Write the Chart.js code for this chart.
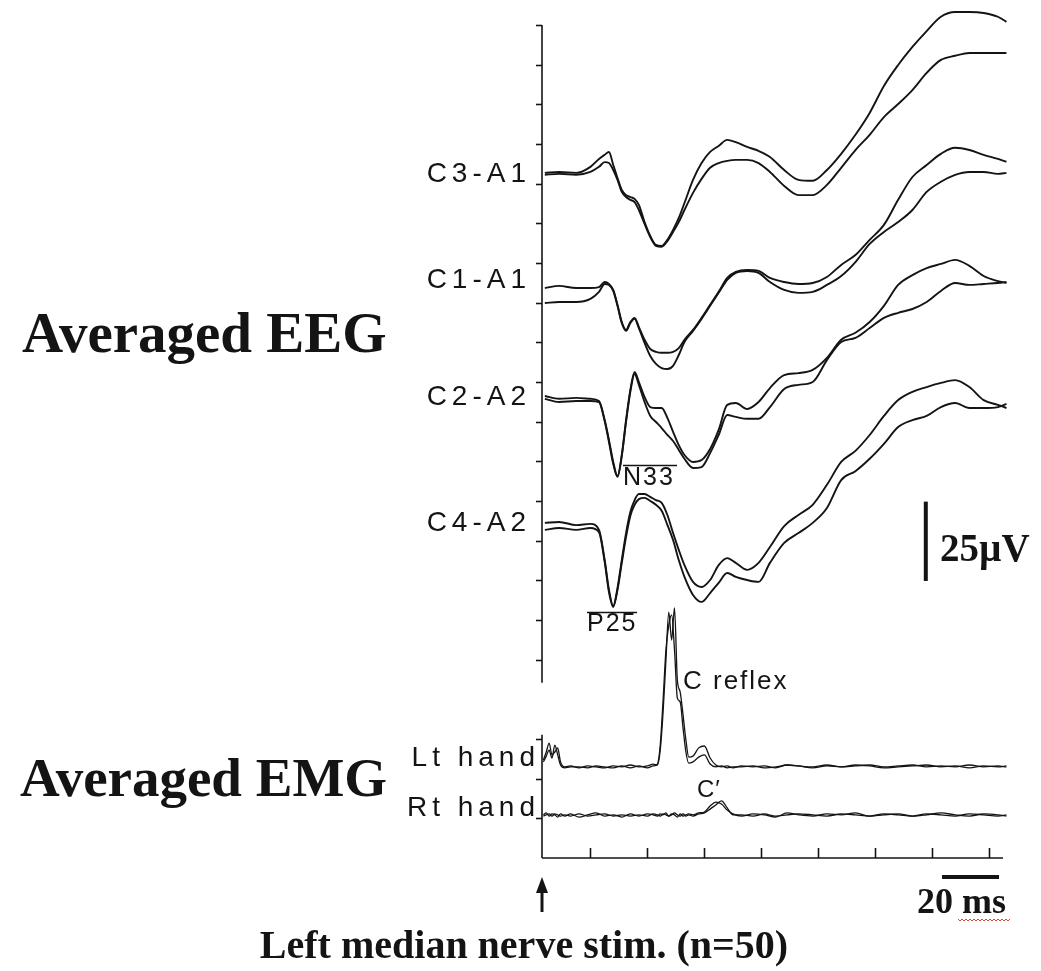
<!DOCTYPE html>
<html>
<head>
<meta charset="utf-8">
<script src="https://cdn.jsdelivr.net/npm/chart.js@4.4.1/dist/chart.umd.min.js"></script>
<style>
  html, body { margin: 0; padding: 0; background: #fff; }
  #wrap { width: 1041px; height: 971px; }
</style>
</head>
<body>
<div id="wrap"><canvas id="chart" width="1041" height="971"></canvas></div>
<script>
// time after stimulus (ms) for the EEG traces
const eegTimes = [1, 6, 12, 17, 20, 22, 23.5, 25, 26.5, 28, 29.5, 31, 32.5, 34, 36, 38, 40, 42, 44, 46, 48, 50,
  53, 56, 59, 62, 65, 68, 72, 76, 80, 85, 90, 95, 100, 105, 110, 115, 120, 125, 130, 135, 140, 145, 150, 155, 160, 163];

// EEG traces (µV, stacked level), two averages per derivation
const c3Upper = [215.9, 216.2, 215.9, 217.8, 220.3, 221.6, 222.5, 218.4, 214.3, 210.5, 208.9, 208.3, 207.7, 205.8, 200.4, 196.0,
  193.2, 192.9, 194.8, 197.9, 201.7, 206.4, 213.7, 219.0, 222.5, 224.4, 226.3, 225.6, 224.1, 222.8, 220.9, 216.8,
  213.7, 213.4, 216.8, 221.9, 227.9, 234.8, 243.3, 249.9, 255.6, 260.6, 265.1, 266.6, 266.6, 266.3, 265.1, 263.5];
const c3Lower = [215.3, 215.6, 215.3, 216.2, 217.8, 219.3, 219.0, 216.8, 213.7, 209.9, 208.3, 207.4, 206.7, 204.2, 199.8, 195.7,
  192.9, 192.6, 194.4, 197.3, 200.4, 204.2, 209.6, 214.0, 217.5, 219.0, 219.7, 220.0, 220.0, 219.0, 216.2, 211.8,
  208.9, 208.9, 212.1, 217.5, 223.1, 227.9, 233.5, 237.6, 242.0, 247.4, 251.5, 252.8, 253.7, 253.7, 253.7, 253.7];
const c1Upper = [179.6, 180.3, 179.6, 179.6, 179.9, 181.5, 180.9, 179.0, 174.3, 168.9, 166.4, 168.9, 170.2, 167.3, 163.3, 160.4,
  159.5, 159.2, 159.2, 159.5, 160.7, 163.3, 166.4, 170.2, 174.3, 178.4, 182.8, 184.7, 185.3, 185.0, 182.8, 181.5,
  180.9, 181.2, 183.1, 186.9, 190.0, 194.8, 199.5, 207.4, 214.6, 218.4, 221.9, 223.8, 223.1, 221.6, 220.3, 219.4];
const c1Lower = [174.9, 175.2, 175.2, 176.2, 178.4, 180.9, 180.6, 178.7, 174.0, 168.6, 166.1, 168.6, 169.9, 167.0, 162.3, 158.2,
  155.7, 154.4, 154.1, 155.1, 158.5, 162.6, 166.1, 169.9, 174.0, 178.1, 182.2, 184.4, 185.0, 184.4, 181.5, 179.0,
  178.1, 178.4, 180.6, 183.4, 187.8, 193.5, 197.3, 200.4, 204.2, 209.9, 213.1, 215.3, 216.2, 216.2, 215.6, 215.9];
const c2Upper = [145.6, 144.7, 145.0, 144.7, 144.0, 138.0, 131.7, 124.8, 120.4, 127.0, 138.0, 147.5, 153.2, 150.0, 145.3, 142.1,
  141.8, 141.8, 138.7, 134.3, 130.1, 127.0, 124.8, 125.4, 128.9, 134.9, 142.8, 143.4, 141.5, 143.7, 148.1, 152.2,
  152.8, 153.8, 157.6, 163.3, 165.5, 168.9, 174.0, 180.6, 183.7, 185.9, 187.2, 188.5, 186.6, 183.4, 181.8, 181.2];
const c2Lower = [144.7, 143.7, 144.0, 144.0, 143.7, 137.7, 131.1, 124.2, 120.1, 126.7, 137.4, 146.9, 152.5, 149.1, 143.7, 139.3,
  137.4, 135.5, 133.3, 131.4, 128.6, 125.8, 122.9, 123.2, 127.6, 133.3, 139.6, 139.0, 138.4, 138.4, 142.1, 147.8,
  149.1, 150.0, 156.9, 162.6, 163.9, 167.0, 170.2, 171.8, 173.0, 175.2, 178.7, 181.2, 180.6, 180.9, 181.2, 181.5];
const c4Upper = [105.6, 105.9, 104.9, 105.3, 103.4, 93.9, 84.5, 79.4, 85.1, 93.9, 102.4, 109.0, 112.8, 114.7, 114.7, 113.8,
  112.8, 111.9, 108.1, 102.4, 97.1, 92.3, 87.0, 85.4, 87.6, 92.3, 94.5, 93.0, 90.8, 93.0, 98.0, 104.6,
  108.1, 111.3, 117.6, 124.8, 128.3, 133.3, 139.3, 144.3, 146.9, 148.4, 149.7, 150.6, 148.4, 144.3, 142.8, 141.8];
const c4Lower = [103.4, 104.0, 103.4, 104.0, 102.7, 93.3, 83.8, 79.1, 84.5, 93.0, 101.2, 107.8, 111.3, 113.1, 113.5, 112.5,
  111.3, 109.4, 105.0, 100.2, 93.9, 88.6, 82.9, 80.7, 83.5, 86.7, 89.8, 88.6, 87.6, 87.0, 93.0, 99.3,
  102.4, 105.6, 110.3, 119.1, 121.9, 125.8, 130.5, 135.8, 138.0, 139.3, 142.1, 143.4, 141.8, 141.8, 142.1, 143.1];

// time after stimulus (ms) for the EMG traces
const emgTimes = [0.5, 1.5, 2.5, 3.5, 4.5, 5.5, 6.5, 8, 10, 13, 16, 19, 22, 25, 28, 31, 34, 37, 39,
  40.5, 41.5, 42.5, 43.5, 44.5, 45.5, 46.5, 47.5, 48.5, 49.5, 50.5, 51.5,
  53, 55, 57, 59, 61, 63, 65, 67, 70, 74, 78, 82, 86, 90,
  95, 100, 105, 110, 115, 120, 125, 130, 135, 140, 145, 150, 155, 160, 163];

const ltHandA = [30.9, 33.4, 36.2, 32.5, 33.4, 34.7, 30.3, 28.7, 29.0, 28.4, 29.0, 28.7, 28.4, 29.0, 28.7, 29.3, 28.7, 29.0, 29.6,
  29.3, 34.0, 46.0, 62.4, 77.5, 68.7, 78.8, 56.1, 52.3, 45.1, 37.2, 31.8,
  32.1, 34.7, 35.3, 31.5, 29.3, 28.7, 29.0, 28.4, 29.0, 28.7, 29.0, 28.4, 29.3, 29.0,
  28.7, 29.3, 28.7, 29.0, 29.3, 28.7, 29.0, 29.3, 28.7, 29.0, 28.7, 29.3, 28.7, 29.0, 28.7];
const ltHandB = [30.3, 32.1, 34.0, 31.5, 35.6, 32.5, 29.3, 28.4, 28.7, 28.7, 28.4, 29.0, 28.7, 28.4, 29.0, 28.4, 29.0, 28.4, 29.0,
  29.6, 35.6, 49.8, 65.6, 73.4, 76.6, 65.6, 50.4, 49.2, 41.0, 33.4, 29.9,
  30.3, 31.8, 32.5, 29.6, 28.7, 29.0, 28.4, 28.7, 28.7, 29.0, 28.4, 28.7, 29.3, 29.0,
  28.4, 29.0, 28.7, 29.3, 29.0, 28.4, 28.7, 29.0, 29.3, 28.7, 29.0, 28.4, 29.0, 28.7, 29.0];
const rtHandA = [13.6, 14.2, 13.2, 13.9, 13.6, 12.9, 13.9, 13.2, 13.9, 12.9, 13.6, 14.2, 13.2, 13.6, 12.9, 13.9, 13.2, 13.9, 13.6,
  13.2, 13.9, 13.6, 14.2, 13.2, 13.9, 13.6, 12.9, 13.9, 13.2, 13.6, 13.9,
  13.6, 14.2, 14.5, 16.4, 17.6, 17.0, 15.1, 13.9, 13.2, 13.9, 13.6, 12.9, 14.2, 13.6,
  13.2, 13.9, 13.6, 14.2, 13.2, 13.6, 13.9, 13.2, 13.6, 14.2, 13.6, 13.2, 13.9, 13.6, 13.2];
const rtHandB = [13.2, 13.6, 13.9, 13.2, 13.9, 13.6, 13.2, 13.6, 13.2, 13.9, 13.2, 13.6, 13.9, 13.2, 13.6, 13.2, 13.6, 13.2, 13.9,
  13.6, 13.2, 13.9, 13.6, 13.2, 13.6, 14.2, 13.6, 13.2, 13.9, 13.2, 13.6,
  13.2, 13.9, 14.2, 15.4, 16.7, 18.0, 15.8, 13.6, 13.6, 13.2, 13.9, 13.2, 13.6, 13.9,
  13.6, 13.2, 13.9, 13.6, 13.2, 13.9, 13.6, 13.2, 13.9, 13.6, 13.2, 13.9, 13.6, 13.2, 13.6];

// labels
const channelNames = ["C3-A1", "C1-A1", "C2-A2", "C4-A2"];
const channelLevels = [215.9, 182.5, 145.6, 105.9];
const emgNames = ["Lt hand", "Rt hand"];
const emgLevels = [31.5, 15.8];

// axes: y ticks every 12.5 µV, broken between the EEG and EMG parts
const yTickStep = 12.5;
const yAxisTop = 262.5;
const yAxisBreak = [38.8, 55.2];
const xTickMs = [17, 37, 57, 77, 97, 117, 137, 157];
const xAxisEnd = 161.8;

// calibration bars
const uvBar = { t: 134.7, from: 87.3, size: 25 };
const msBar = { from: 140.4, size: 20, level: -6.0 };

const INK = "#141414";
const SERIF = '"Liberation Serif", "Times New Roman", serif';
const SANS = '"Liberation Sans", Arial, sans-serif';

const toPoints = (times, vals) => vals.map((v, i) => ({ x: times[i], y: v }));

const eegTraces = [c3Upper, c3Lower, c1Upper, c1Lower, c2Upper, c2Lower, c4Upper, c4Lower];
const emgTraces = [ltHandA, ltHandB, rtHandA, rtHandB];

const lineStyle = (w) => ({
  borderColor: INK,
  borderWidth: w,
  pointRadius: 0,
  fill: false,
  cubicInterpolationMode: "monotone",
  clip: false,
});

function txt(ctx, s, x, y, font, align, spacing) {
  ctx.font = font;
  ctx.textAlign = align || "left";
  ctx.letterSpacing = spacing || "0px";
  ctx.fillText(s, x, y);
}

const overlayPlugin = {
  id: "overlay",
  afterDatasetsDraw(chart) {
    const { ctx, scales: { x, y } } = chart;
    ctx.save();
    ctx.strokeStyle = INK;
    ctx.fillStyle = INK;
    ctx.lineWidth = 1.6;

    // vertical axis in two pieces
    const x0 = x.getPixelForValue(0);
    [[0, yAxisBreak[0]], [yAxisBreak[1], yAxisTop]].forEach(([lo, hi]) => {
      ctx.beginPath();
      ctx.moveTo(x0, y.getPixelForValue(hi));
      ctx.lineTo(x0, y.getPixelForValue(lo));
      ctx.stroke();
    });
    for (let v = yTickStep; v <= yAxisTop + 0.01; v += yTickStep) {
      if (v > yAxisBreak[0] && v < yAxisBreak[1]) continue;
      const py = Math.round(y.getPixelForValue(v)) + 0.5;
      ctx.beginPath();
      ctx.moveTo(x0 - 6, py);
      ctx.lineTo(x0, py);
      ctx.stroke();
    }

    // time axis with ticks pointing up
    const yb = y.getPixelForValue(0);
    ctx.beginPath();
    ctx.moveTo(x0, yb);
    ctx.lineTo(x.getPixelForValue(xAxisEnd), yb);
    ctx.stroke();
    xTickMs.forEach((t) => {
      const px = Math.round(x.getPixelForValue(t)) + 0.5;
      ctx.beginPath();
      ctx.moveTo(px, yb);
      ctx.lineTo(px, yb - 10);
      ctx.stroke();
    });

    // 25 µV bar
    ctx.lineWidth = 4;
    ctx.beginPath();
    ctx.moveTo(x.getPixelForValue(uvBar.t), y.getPixelForValue(uvBar.from));
    ctx.lineTo(x.getPixelForValue(uvBar.t), y.getPixelForValue(uvBar.from + uvBar.size));
    ctx.stroke();
    // 20 ms bar
    ctx.beginPath();
    ctx.moveTo(x.getPixelForValue(msBar.from), y.getPixelForValue(msBar.level));
    ctx.lineTo(x.getPixelForValue(msBar.from + msBar.size), y.getPixelForValue(msBar.level));
    ctx.stroke();

    // stimulus arrow at t = 0
    ctx.lineWidth = 3;
    ctx.beginPath();
    ctx.moveTo(x0, 912);
    ctx.lineTo(x0, 890);
    ctx.stroke();
    ctx.beginPath();
    ctx.moveTo(x0, 877);
    ctx.lineTo(x0 - 6, 893);
    ctx.lineTo(x0 + 6, 893);
    ctx.closePath();
    ctx.fill();

    // channel labels
    ctx.textBaseline = "middle";
    channelNames.forEach((n, i) => {
      txt(ctx, n, 531, y.getPixelForValue(channelLevels[i]) + 1, "28px " + SANS, "right", "5px");
    });
    emgNames.forEach((n, i) => {
      txt(ctx, n, 540, y.getPixelForValue(emgLevels[i]), "28px " + SANS, "right", "5px");
    });

    // component labels with overlines
    txt(ctx, "N33", 623, 478, "25px " + SANS, "left", "2px");
    txt(ctx, "P25", 587, 624, "25px " + SANS, "left", "2px");
    ctx.lineWidth = 1.6;
    ctx.beginPath();
    ctx.moveTo(623, 465.5); ctx.lineTo(677, 465.5);
    ctx.moveTo(587, 612.5); ctx.lineTo(637, 612.5);
    ctx.stroke();
    txt(ctx, "C reflex", 683, 682, "26px " + SANS, "left", "2px");
    txt(ctx, "C\u2032", 697, 790, "24px " + SANS, "left", "1px");

    // big serif labels
    ctx.textBaseline = "alphabetic";
    txt(ctx, "Averaged EEG", 22, 352, "bold 57px " + SERIF);
    txt(ctx, "Averaged EMG", 20, 796, "bold 55px " + SERIF);
    txt(ctx, "25\u00b5V", 940, 561, "bold 39px " + SERIF);
    txt(ctx, "20 ms", 917, 913, "bold 36px " + SERIF);
    txt(ctx, "Left median nerve stim. (n=50)", 524, 958, "bold 40px " + SERIF, "center");

    // spell-check squiggle under "ms"
    ctx.strokeStyle = "#e0443a";
    ctx.lineWidth = 1;
    ctx.beginPath();
    for (let i = 0; i <= 26; i++) {
      const px = 958 + i * 2;
      const py = 919 + (i % 2 ? 2 : 0);
      if (i === 0) ctx.moveTo(px, py); else ctx.lineTo(px, py);
    }
    ctx.stroke();

    ctx.restore();
  },
};

new Chart(document.getElementById("chart"), {
  type: "line",
  data: {
    datasets: [
      ...eegTraces.map((vals) => ({ data: toPoints(eegTimes, vals), ...lineStyle(1.9) })),
      ...emgTraces.map((vals) => ({ data: toPoints(emgTimes, vals), ...lineStyle(1.3) })),
    ],
  },
  options: {
    responsive: false,
    animation: false,
    devicePixelRatio: 1,
    layout: { padding: { left: 542, right: 34, top: 25, bottom: 113 } },
    scales: {
      x: { type: "linear", min: 0, max: 163.2, display: false },
      y: { type: "linear", min: 0, max: 262.5, display: false },
    },
    plugins: { legend: { display: false }, tooltip: { enabled: false } },
  },
  plugins: [overlayPlugin],
});
</script>
</body>
</html>
